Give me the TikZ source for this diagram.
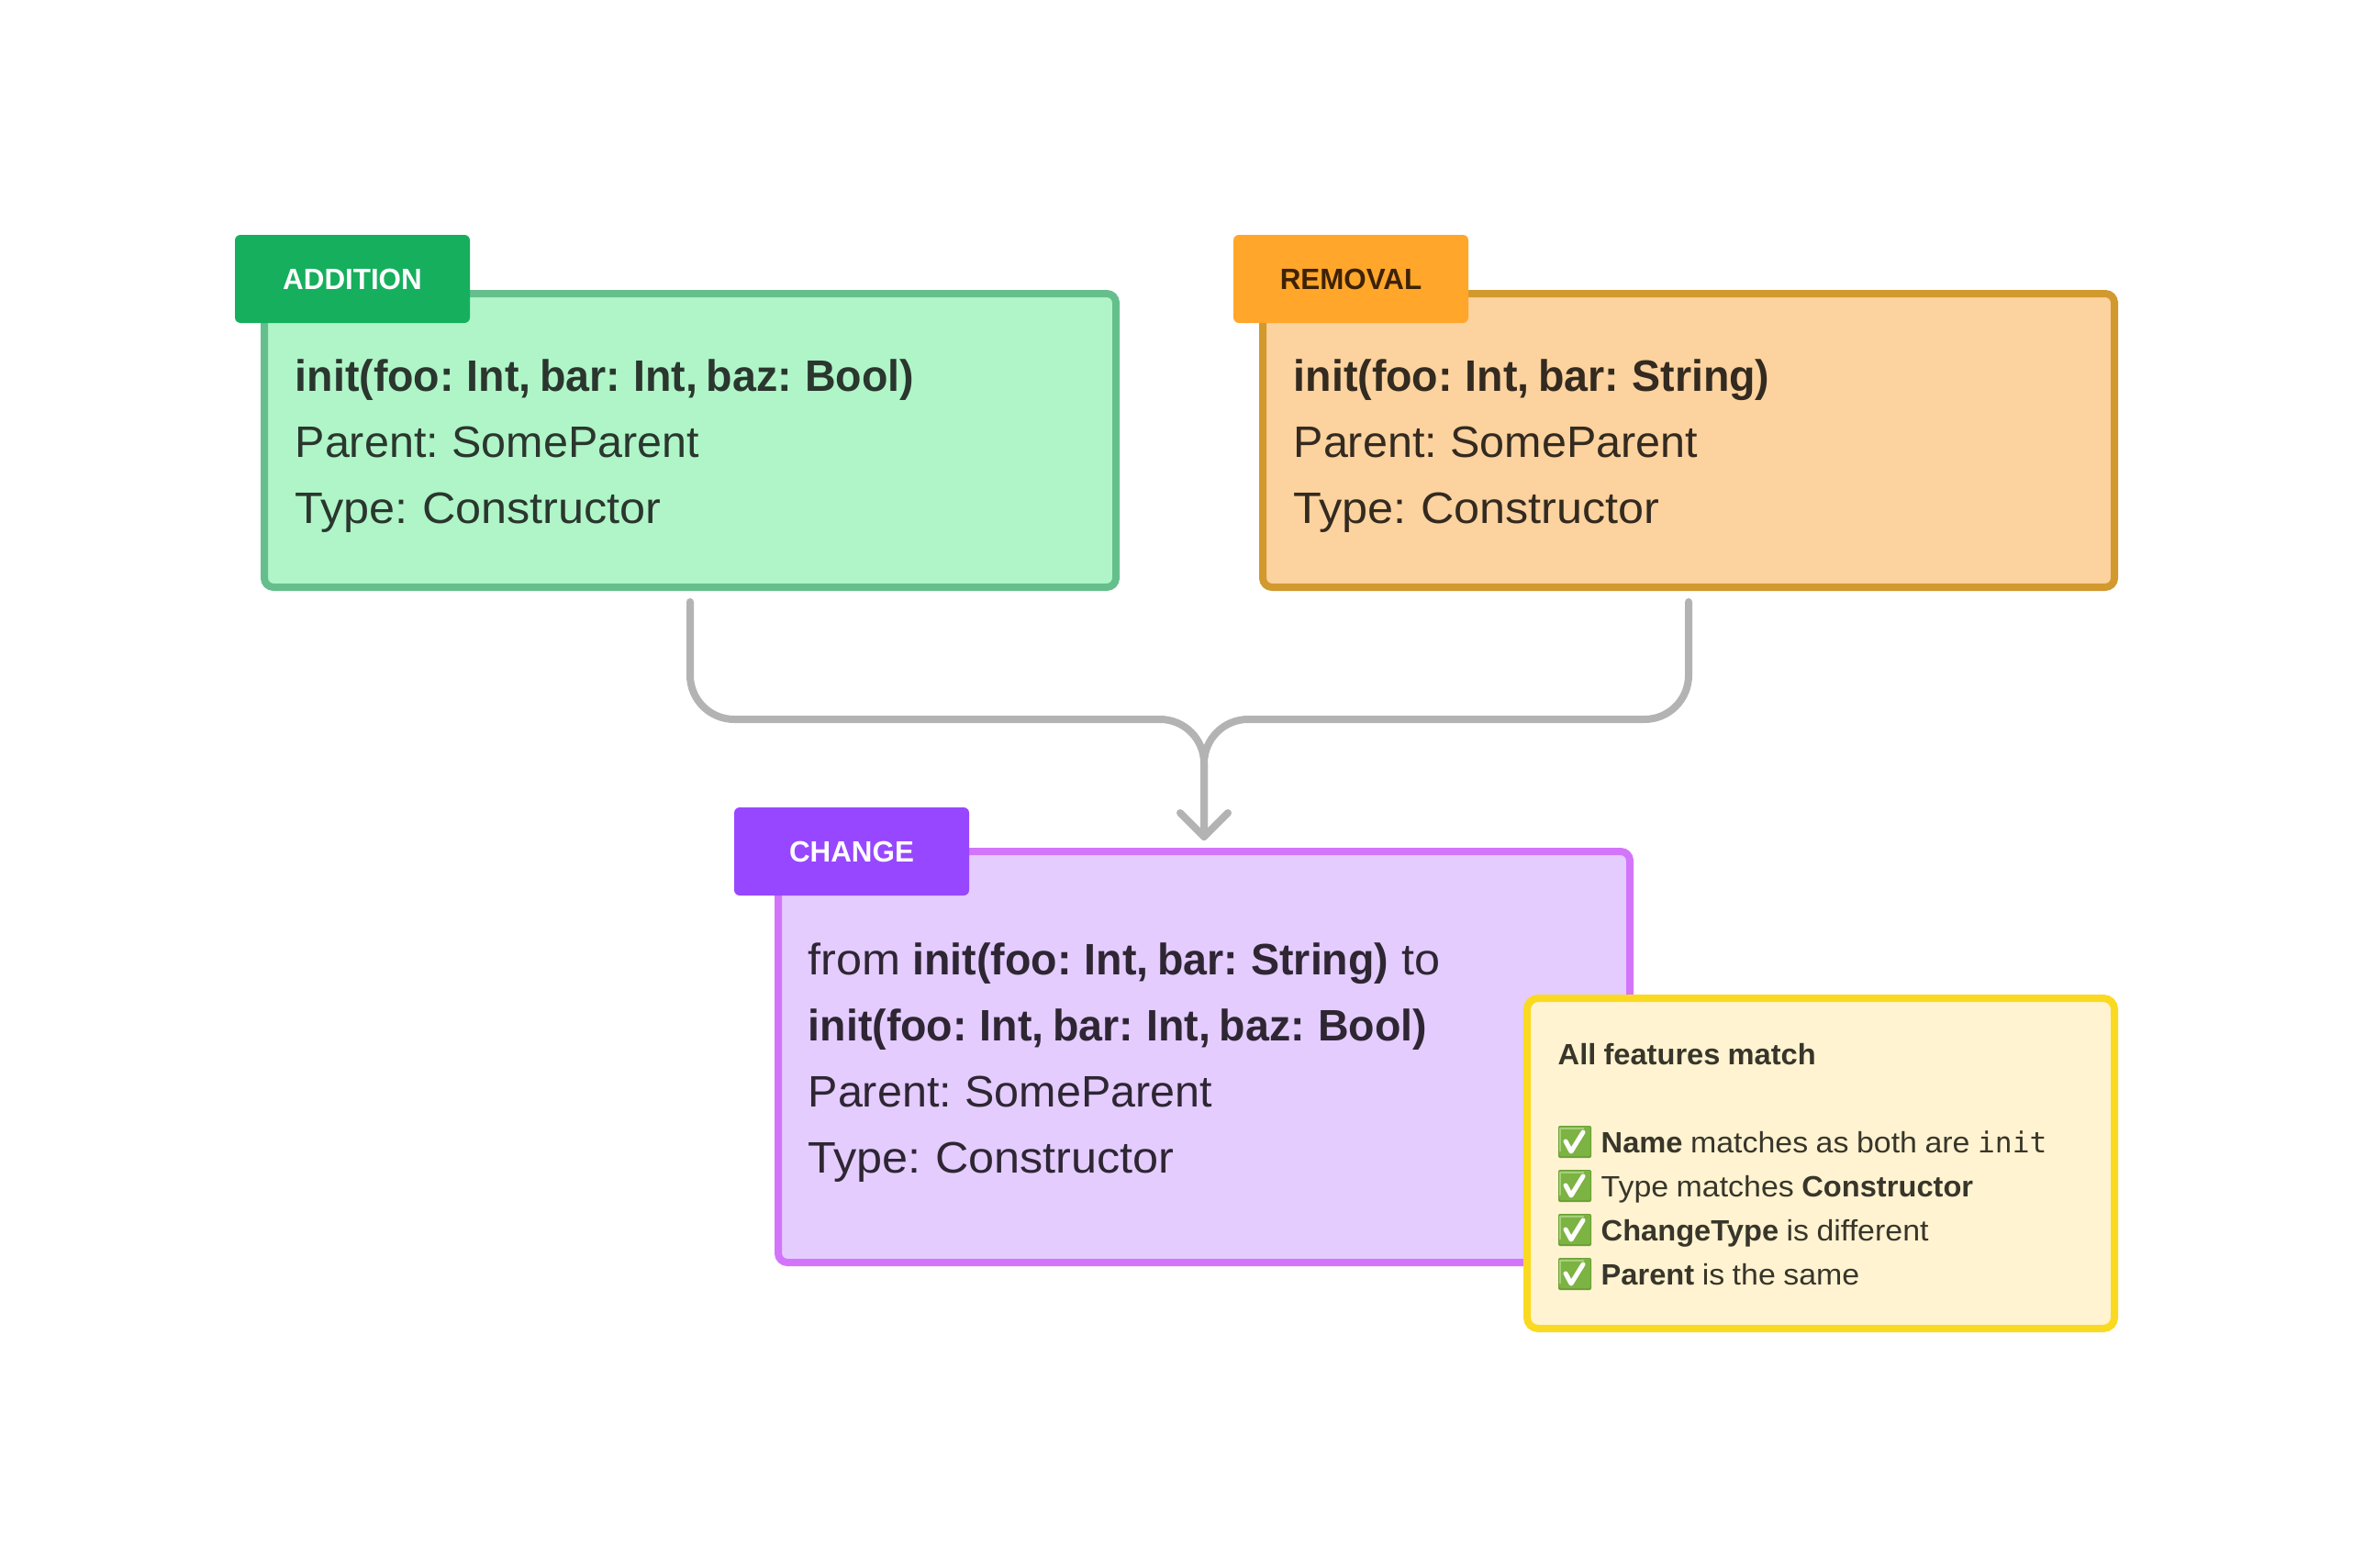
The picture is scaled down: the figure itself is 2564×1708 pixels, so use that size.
\documentclass[tikz,border=0pt]{standalone}
\usepackage{fontspec}
\setmainfont{Liberation Sans}[FakeStretch=1.01,WordSpace=0.75,BoldFeatures={FakeStretch=0.97}]
\newfontfamily\bigwide{Liberation Sans}[FakeStretch=1.05,WordSpace=0.75]
\newfontfamily\smallfont{Liberation Sans}[FakeStretch=1.06,WordSpace=0.9,BoldFeatures={FakeStretch=1.02}]
\newfontfamily\tagfont{Liberation Sans}[BoldFeatures={FakeStretch=0.98}]
\setmonofont{DejaVu Sans Mono}
\definecolor{grnF}{HTML}{AFF5C7}\definecolor{grnB}{HTML}{65BF8C}\definecolor{grnT}{HTML}{16AF5D}\definecolor{grnX}{HTML}{2A362E}
\definecolor{orgF}{HTML}{FCD29E}\definecolor{orgB}{HTML}{D2992E}\definecolor{orgT}{HTML}{FFA62B}\definecolor{orgX}{HTML}{332A20}\definecolor{orgL}{HTML}{3D2205}
\definecolor{purF}{HTML}{E4CCFF}\definecolor{purB}{HTML}{D375FA}\definecolor{purT}{HTML}{9747FF}\definecolor{purX}{HTML}{2E2633}
\definecolor{yelF}{HTML}{FFF3D1}\definecolor{yelB}{HTML}{FADA20}\definecolor{yelX}{HTML}{38352A}
\definecolor{conn}{HTML}{B3B3B3}\definecolor{okG}{HTML}{7CB342}\definecolor{okD}{HTML}{6AA136}\definecolor{okL}{HTML}{A5CF7A}
\def\pu{0.3pt}
\tikzset{
 x=0.3pt,y=-0.3pt,
 box/.style={draw,line width=8*\pu,rounded corners=10*\pu,inner sep=0pt,outer sep=0pt,anchor=north west},
 tag/.style={rounded corners=6*\pu,inner sep=0pt,outer sep=0pt,minimum width=256*\pu,minimum height=96*\pu,anchor=north west,font=\tagfont\fontsize{9.6pt}{11pt}\selectfont\bfseries},
 big/.style={anchor=base west,inner sep=0pt,font=\fontsize{14.4pt}{20pt}\selectfont},
 bigw/.style={anchor=base west,inner sep=0pt,font=\bigwide\fontsize{14.4pt}{20pt}\selectfont},
 small/.style={anchor=base west,inner sep=0pt,font=\smallfont\fontsize{9.6pt}{13pt}\selectfont,text=yelX},
 wire/.style={draw=conn,line width=8*\pu,line cap=round,line join=round},
 okbox/.pic={
  \fill[okD,rounded corners=2*\pu] (0,0) rectangle (36,35);
  \fill[okG,rounded corners=2*\pu] (1,1) rectangle (35,33);
  \draw[okL,line width=2*\pu] (2,28) -- (2,3) -- (28,3);
  \draw[white,line width=5*\pu,line cap=round,line join=round] (8,17) -- (14,28) -- (27,7);
 }
}
\newcommand\mymono[1]{{\ttfamily\fontsize{9.4pt}{13pt}\selectfont #1}}
\begin{document}
\begin{tikzpicture}
\useasboundingbox (0,0) rectangle (2564,1708);
% boxes
\node[box,draw=grnB,fill=grnF,minimum width=928*\pu,minimum height=320*\pu] (add) at (288,320) {};
\node[box,draw=orgB,fill=orgF,minimum width=928*\pu,minimum height=320*\pu] (rem) at (1376,320) {};
\node[box,draw=purB,fill=purF,minimum width=928*\pu,minimum height=448*\pu] (chg) at (848,928) {};
\node[box,draw=yelB,fill=yelF,line width=8*\pu,rounded corners=12*\pu,minimum width=640*\pu,minimum height=360*\pu] (note) at (1664,1088) {};
% tags
\node[tag,fill=grnT,text=white] (tadd) at (256,256) {ADDITION};
\node[tag,fill=orgT,text=orgL] (trem) at (1344,256) {REMOVAL};
\node[tag,fill=purT,text=white] (tchg) at (800,880) {CHANGE};
% text
\node[big,text=grnX] (a1) at (321,426) {\textbf{init(foo: Int, bar: Int, baz: Bool)}};
\node[big,text=grnX] (a2) at (321,498) {Parent: SomeParent};
\node[bigw,text=grnX] (a3) at (321,570) {Type: Constructor};
\node[big,text=orgX] (r1) at (1409,426) {\textbf{init(foo: Int, bar: String)}};
\node[big,text=orgX] (r2) at (1409,498) {Parent: SomeParent};
\node[bigw,text=orgX] (r3) at (1409,570) {Type: Constructor};
\node[big,text=purX] (c1) at (880,1062) {{\bigwide from} \kern0.9pt\textbf{init(foo: Int, bar: String)} \kern1.2pt{\bigwide to}};
\node[big,text=purX] (c2) at (880,1134) {\textbf{init(foo: Int, bar: Int, baz: Bool)}};
\node[big,text=purX] (c3) at (880,1206) {Parent: SomeParent};
\node[bigw,text=purX] (c4) at (880,1278) {Type: Constructor};
\node[small] (n0) at (1697,1160) {\textbf{All features match}};
\node[small] (n1) at (1744,1256) {\textbf{Name} matches as both are \mymono{init}};
\node[small] (n2) at (1744,1304) {Type matches \textbf{Constructor}};
\node[small] (n3) at (1744,1352) {\textbf{ChangeType} is different};
\node[small] (n4) at (1744,1400) {\textbf{Parent} is the same};
\pic at (1698,1227) {okbox};
\pic at (1698,1275) {okbox};
\pic at (1698,1323) {okbox};
\pic at (1698,1371) {okbox};
% connectors
\coordinate (s1) at ([yshift=-16*\pu]add.south);
\coordinate (s2) at ([yshift=-16*\pu]rem.south);
\coordinate (tip) at (1312,912);
\draw[wire] (s1) -- (752,736) arc[start angle=180,end angle=90,x radius=48,y radius=48] -- (1264,784) arc[start angle=270,end angle=360,x radius=48,y radius=48] -- (tip);
\draw[wire] (s2) -- (1840,736) arc[start angle=0,end angle=90,x radius=48,y radius=48] -- (1360,784) arc[start angle=270,end angle=180,x radius=48,y radius=48] -- (tip);
\draw[wire] (1286,886) -- (tip) -- (1338,886);
\end{tikzpicture}
\end{document}
